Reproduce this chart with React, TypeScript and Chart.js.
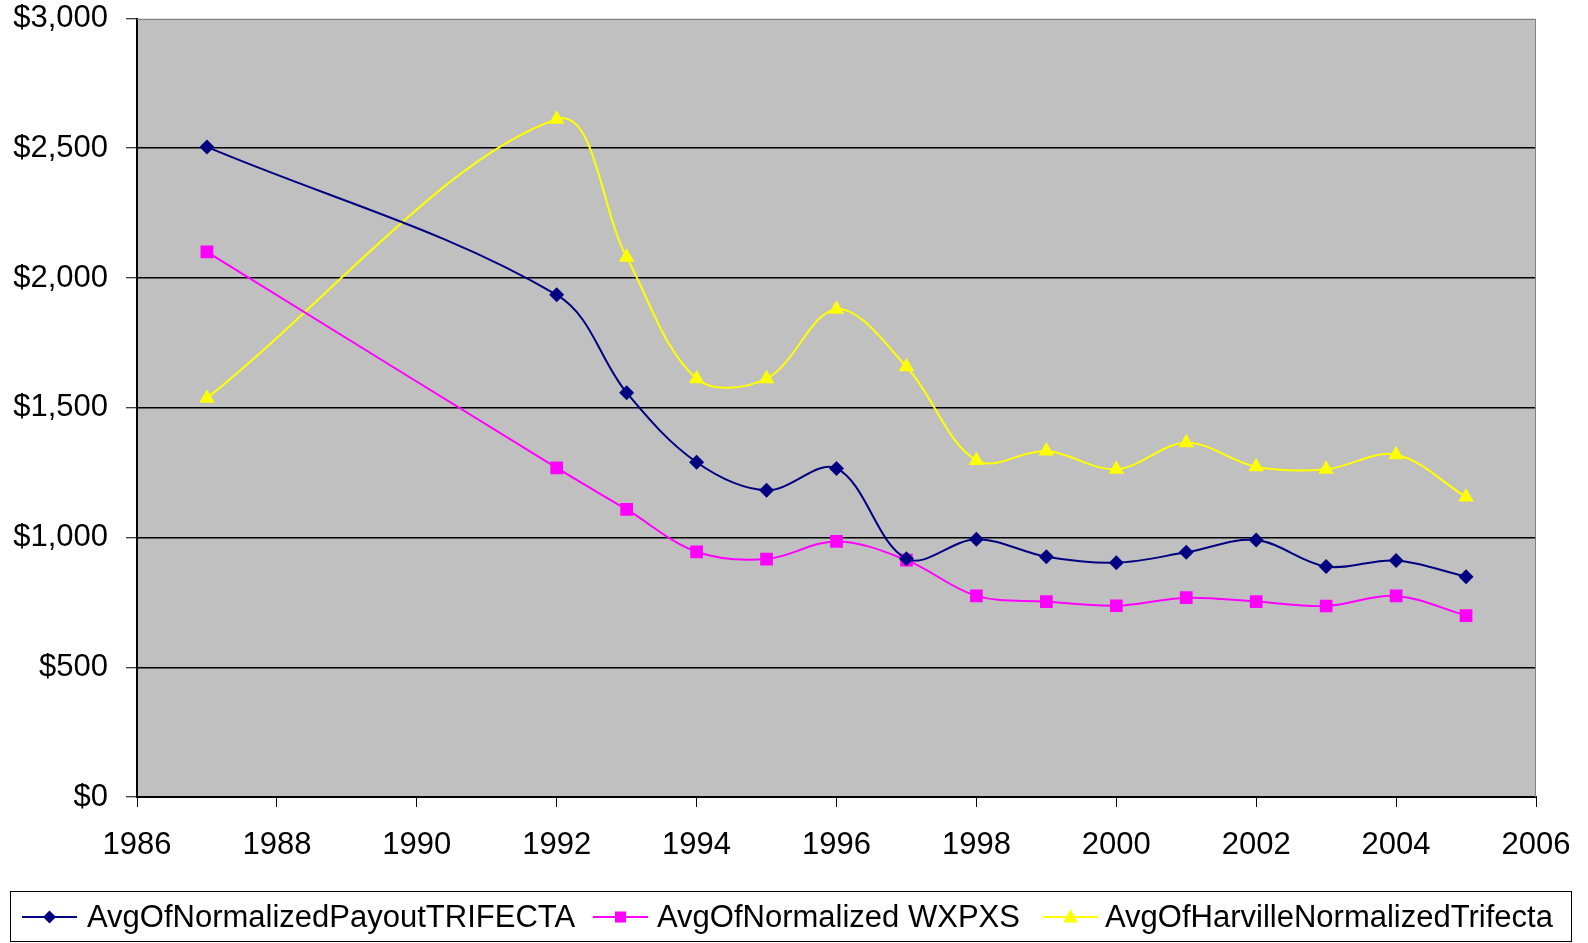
import React, { useEffect, useRef } from 'react';
import { Chart, registerables } from 'chart.js';

Chart.register(...registerables);

const years = [1987, 1992, 1993, 1994, 1995, 1996, 1997, 1998, 1999, 2000, 2001, 2002, 2003, 2004, 2005];
const trifecta = [2505, 1935, 1558, 1290, 1182, 1266, 918, 993, 926, 903, 943, 990, 888, 911, 849];
const wxpxs = [2101, 1268, 1108, 945, 917, 985, 913, 775, 753, 737, 768, 753, 736, 775, 699];
const harville = [1537, 2612, 2080, 1612, 1612, 1880, 1658, 1297, 1333, 1263, 1365, 1273, 1263, 1319, 1156];

const seriesLabels = [
  'AvgOfNormalizedPayoutTRIFECTA',
  'AvgOfNormalized WXPXS',
  'AvgOfHarvilleNormalizedTrifecta',
];
const seriesColors = ['#000080', '#FF00FF', '#FFFF00'];
const seriesMarkers = ['rectRot', 'rect', 'triangle'];

const FONT = "'Liberation Sans', Arial, Helvetica, sans-serif";

function drawMarker(ctx: CanvasRenderingContext2D, kind: string, x: number, y: number, r: number, color: string) {
  ctx.save();
  ctx.fillStyle = color;
  ctx.beginPath();
  if (kind === 'rectRot') {
    ctx.moveTo(x, y - r);
    ctx.lineTo(x + r, y);
    ctx.lineTo(x, y + r);
    ctx.lineTo(x - r, y);
  } else if (kind === 'rect') {
    ctx.rect(x - r, y - r, 2 * r, 2 * r);
  } else {
    ctx.moveTo(x, y - r);
    ctx.lineTo(x + r * 0.9, y + r * 0.7);
    ctx.lineTo(x - r * 0.9, y + r * 0.7);
  }
  ctx.closePath();
  ctx.fill();
  ctx.restore();
}

const plotDecor = {
  id: 'plotDecor',
  beforeDraw(chart: any) {
    const { ctx, chartArea } = chart;
    ctx.save();
    ctx.fillStyle = '#C0C0C0';
    ctx.fillRect(chartArea.left, chartArea.top, chartArea.right - chartArea.left, chartArea.bottom - chartArea.top);
    ctx.restore();
  },
  beforeDatasetsDraw(chart: any) {
    const { ctx, chartArea } = chart;
    ctx.save();
    ctx.strokeStyle = '#808080';
    ctx.lineWidth = 1;
    ctx.beginPath();
    ctx.moveTo(chartArea.left, Math.round(chartArea.top) + 0.5);
    ctx.lineTo(Math.round(chartArea.right) - 0.5, Math.round(chartArea.top) + 0.5);
    ctx.lineTo(Math.round(chartArea.right) - 0.5, chartArea.bottom);
    ctx.stroke();
    ctx.restore();
  },
  afterDraw(chart: any) {
    const ctx: CanvasRenderingContext2D = chart.ctx;
    ctx.save();
    ctx.strokeStyle = '#000';
    ctx.lineWidth = 1;
    ctx.strokeRect(10.5, 891.5, 1561, 50);
    const lineStarts = [22, 593, 1043];
    const lineLen = 55;
    const textStarts = [87, 657, 1105];
    const markerR = [6.5, 5.5, 8];
    const yMid = 917;
    ctx.font = `31px ${FONT}`;
    ctx.textBaseline = 'alphabetic';
    ctx.textAlign = 'left';
    for (let i = 0; i < 3; i++) {
      ctx.strokeStyle = seriesColors[i];
      ctx.lineWidth = 2;
      ctx.beginPath();
      ctx.moveTo(lineStarts[i], yMid);
      ctx.lineTo(lineStarts[i] + lineLen, yMid);
      ctx.stroke();
      drawMarker(ctx, seriesMarkers[i], lineStarts[i] + lineLen / 2, yMid, markerR[i], seriesColors[i]);
      ctx.fillStyle = '#000';
      ctx.fillText(seriesLabels[i], textStarts[i], 927);
    }
    ctx.restore();
  },
};

export default function App() {
  const canvasRef = useRef<HTMLCanvasElement | null>(null);

  useEffect(() => {
    document.body.style.margin = '0';
    const canvas = canvasRef.current;
    if (!canvas) return;
    const dataSets = [trifecta, wxpxs, harville];
    const chart = new Chart(canvas, {
      type: 'line',
      data: {
        datasets: dataSets.map((vals, i) => ({
          label: seriesLabels[i],
          data: years.map((y, j) => ({ x: y, y: vals[j] })),
          borderColor: seriesColors[i],
          backgroundColor: seriesColors[i],
          borderWidth: 2,
          pointStyle: seriesMarkers[i] as any,
          pointRadius: i === 0 ? 7.5 : i === 1 ? 9 : 9,
          pointBorderWidth: 0,
          pointBackgroundColor: seriesColors[i],
          pointBorderColor: seriesColors[i],
          tension: 0.35,
          fill: false,
        })),
      },
      options: {
        responsive: false,
        animation: false,
        events: [],
        layout: { padding: { top: 18.5, right: 52, bottom: 51, left: 0 } },
        plugins: {
          legend: { display: false },
          tooltip: { enabled: false },
          title: { display: false },
        },
        scales: {
          x: {
            type: 'linear',
            min: 1986,
            max: 2006,
            afterFit: (scale: any) => {
              scale.height = 95;
              scale.paddingLeft = 0;
              scale.paddingRight = 0;
            },
            ticks: {
              stepSize: 2,
              color: '#000',
              font: { family: FONT, size: 31 },
              padding: 20,
              maxRotation: 0,
              autoSkip: false,
              callback: (v: any) => String(v),
            },
            grid: {
              drawOnChartArea: false,
              drawTicks: true,
              tickLength: 10,
              tickColor: '#000',
              tickWidth: 1,
            },
            border: { display: true, color: '#000', width: 2 },
          },
          y: {
            min: 0,
            max: 3000,
            afterFit: (scale: any) => {
              scale.width = 137;
              scale.paddingTop = 0;
              scale.paddingBottom = 0;
            },
            ticks: {
              stepSize: 500,
              color: '#000',
              font: { family: FONT, size: 31 },
              padding: 18,
              callback: (v: any) => '$' + Number(v).toLocaleString('en-US'),
            },
            grid: {
              color: (c: any) => (c.tick && (c.tick.value === 3000 || c.tick.value === 0) ? 'rgba(0,0,0,0)' : '#000'),
              lineWidth: 1.5,
              tickLength: 11,
              tickColor: '#000',
              tickWidth: 1,
            },
            border: { display: true, color: '#000', width: 2 },
          },
        },
      },
      plugins: [plotDecor],
    });
    return () => chart.destroy();
  }, []);

  return (
    <div style={{ width: 1588, height: 943, background: '#fff' }}>
      <canvas ref={canvasRef} width={1588} height={943} style={{ display: 'block' }} />
    </div>
  );
}
